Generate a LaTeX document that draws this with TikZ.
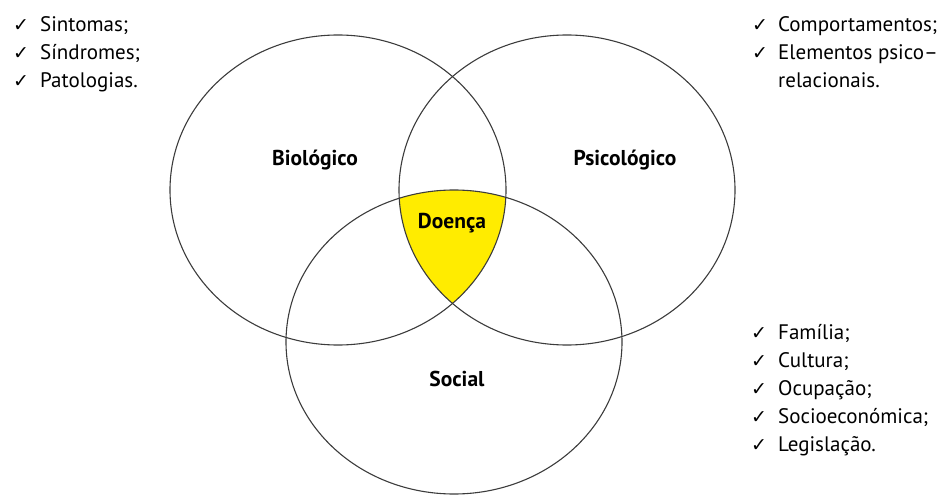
\documentclass[tikz,border=0pt]{standalone}
\usepackage{fontspec}
\setmainfont{PT Sans}
\newfontfamily\checkfont{DejaVu Sans}
\definecolor{lensyellow}{RGB}{255,236,0}
\definecolor{ringgray}{RGB}{60,60,60}
\newcommand{\ck}{\makebox[16pt][l]{\checkfont\fontsize{19}{28}\selectfont ✓}}
\begin{document}
\begin{tikzpicture}[x=1pt,y=-1pt,
  ring/.style={draw=ringgray,line width=1.1pt},
  areaname/.style={inner sep=0pt,font=\fontsize{21.5}{25}\selectfont\bfseries,text=black},
  itemlist/.style={inner sep=0pt,anchor=base west,font=\fontsize{21}{28}\selectfont,text=black}]
\useasboundingbox (0,0) rectangle (946,495);

% shared region of the three spheres
\begin{scope}
  \clip (338,190) ellipse [x radius=168pt, y radius=155pt];
  \clip (567,190) ellipse [x radius=168pt, y radius=155pt];
  \fill[lensyellow] (454,342) ellipse [x radius=168pt, y radius=152pt];
\end{scope}

% the three spheres
\draw[ring] (338,190) ellipse [x radius=168pt, y radius=155pt];
\draw[ring] (567,190) ellipse [x radius=168pt, y radius=155pt];
\draw[ring] (454,342) ellipse [x radius=168pt, y radius=152pt];

% sphere names
\node[areaname] (bio) at (315,160) {Biológico};
\node[areaname] (psi) at (625,160) {Psicológico};
\node[areaname] (doe) at (452,223) {Doença};
\node[areaname] (soc) at (457,379) {Social};

% lists of factors
\node[itemlist] (biolist) at (13,32) {\begin{tabular}[t]{@{}l@{\hspace{11pt}}l@{}}
  \ck & Sintomas;\\
  \ck & Síndromes;\\
  \ck & Patologias.
\end{tabular}};
\node[itemlist] (psilist) at (752,32) {\begin{tabular}[t]{@{}l@{\hspace{10pt}}l@{}}
  \ck & Comportamentos;\\
  \ck & Elementos psico–\\
      & relacionais.
\end{tabular}};
\node[itemlist] (soclist) at (751,339) {\begin{tabular}[t]{@{}l@{\hspace{11pt}}l@{}}
  \ck & Família;\\
  \ck & Cultura;\\
  \ck & Ocupação;\\
  \ck & Socioeconómica;\\
  \ck & Legislação.
\end{tabular}};
\end{tikzpicture}
\end{document}
